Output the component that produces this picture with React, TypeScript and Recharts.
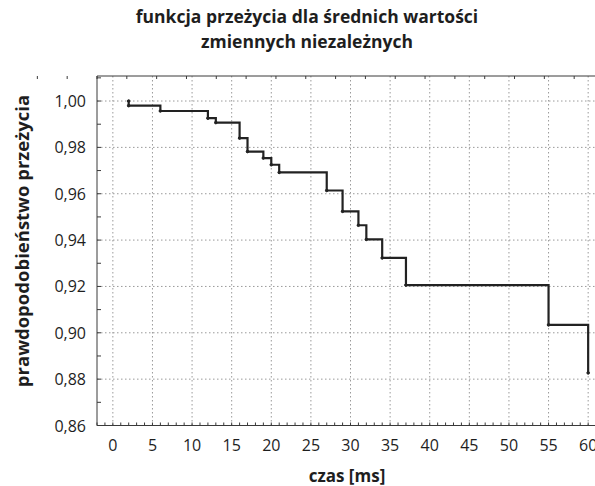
import { LineChart, Line, XAxis, YAxis, ReferenceLine } from 'recharts';

// czasy zdarzeń [ms] i prawdopodobieństwo przeżycia (krzywa schodkowa)
const czas = [2, 2, 6, 12, 13, 16, 17, 19, 20, 21, 27, 29, 31, 32, 34, 37, 55, 60];
const przezycie = [1.0, 0.998, 0.9957, 0.9926, 0.9907, 0.984, 0.9782, 0.9754, 0.9725, 0.9692, 0.9614, 0.9524, 0.9464, 0.9403, 0.9323, 0.9206, 0.9034, 0.8827];

const xLabels = [0, 5, 10, 15, 20, 25, 30, 35, 40, 45, 50, 55, 60];
const xMinor = Array.from({ length: 65 }, (_, i) => i - 2);
const yLabels = [0.86, 0.88, 0.9, 0.92, 0.94, 0.96, 0.98, 1.0];
const yMinor = [0.86, 0.87, 0.88, 0.89, 0.9, 0.91, 0.92, 0.93, 0.94, 0.95, 0.96, 0.97, 0.98, 0.99, 1.0, 1.01];

const data = czas.map((t, i) => ({ t, s: przezycie[i] }));

const FONT = '"Open Sans", sans-serif';
const AXIS = '#3a3a3a';
const TEXT = '#1e1e1e';

const isLabelX = (v: number) => xLabels.includes(v);
const isLabelY = (v: number) => yLabels.some((l) => Math.abs(l - v) < 1e-6);

const BottomTick = ({ x, y, payload }: any) => (
  <g>
    <line x1={x} x2={x} y1={y} y2={y - 3} stroke={AXIS} />
    {isLabelX(payload.value) && (
      <text x={x} y={y + 25} textAnchor="middle" fontSize={16} fontFamily={FONT} fill={TEXT}>
        {payload.value}
      </text>
    )}
  </g>
);

const TopTick = ({ x, y }: any) => <line x1={x} x2={x} y1={y} y2={y + 3} stroke={AXIS} />;

const LeftTick = ({ x, y, payload }: any) => (
  <g>
    <line x1={x} x2={x + 4} y1={y} y2={y} stroke={AXIS} />
    {isLabelY(payload.value) && (
      <text x={x - 11} y={y + 6} textAnchor="end" fontSize={16} fontFamily={FONT} fill={TEXT}>
        {payload.value.toFixed(2).replace('.', ',')}
      </text>
    )}
  </g>
);

export default function App() {
  return (
    <div
      style={{
        position: 'fixed',
        left: 0,
        top: 0,
        width: 595,
        height: 486,
        overflow: 'hidden',
        background: '#fff',
      }}
    >
      <div style={{ position: 'absolute', left: 8, top: 8 }}>
        <LineChart width={620} height={478} data={data} margin={{ top: 38, right: 24, bottom: 30.5, left: 29 }}>
          <XAxis
            dataKey="t"
            type="number"
            domain={[-2, 62]}
            allowDataOverflow
            ticks={xMinor}
            interval={0}
            height={30}
            tickSize={0}
            tickMargin={0}
            tickLine={false}
            tick={<BottomTick />}
            stroke={AXIS}
          />
          <XAxis
            xAxisId="top"
            orientation="top"
            type="number"
            domain={[-2, 62]}
            allowDataOverflow
            ticks={xMinor}
            interval={0}
            height={30}
            tickSize={0}
            tickMargin={0}
            tickLine={false}
            tick={<TopTick />}
            stroke={AXIS}
          />
          <YAxis
            type="number"
            domain={[0.86, 1.0108]}
            allowDataOverflow
            ticks={yMinor}
            interval={0}
            width={60}
            tickSize={0}
            tickMargin={0}
            tickLine={false}
            tick={<LeftTick />}
            stroke={AXIS}
          />
          {xLabels.map((v) => (
            <ReferenceLine key={`gx${v}`} x={v} stroke="#9a9a9a" strokeDasharray="1.5 2.5" />
          ))}
          {yLabels.slice(1).map((v) => (
            <ReferenceLine key={`gy${v}`} y={v} stroke="#9a9a9a" strokeDasharray="1.5 2.5" />
          ))}
          <Line
            type="stepAfter"
            dataKey="s"
            stroke="#222"
            strokeWidth={2.2}
            dot={{ r: 1.3, fill: '#222', stroke: '#222', strokeWidth: 1 }}
            isAnimationActive={false}
          />
          <text x={299} y={15} textAnchor="middle" fontSize={17.5} fontWeight="bold" fontFamily={FONT} fill={TEXT}>
            funkcja przeżycia dla średnich wartości
          </text>
          <text x={299} y={40} textAnchor="middle" fontSize={17.5} fontWeight="bold" fontFamily={FONT} fill={TEXT}>
            zmiennych niezależnych
          </text>
          <text x={339} y={474} textAnchor="middle" fontSize={17} fontWeight="bold" fontFamily={FONT} fill={TEXT}>
            czas [ms]
          </text>
          <text
            x={21}
            y={233}
            textAnchor="middle"
            fontSize={18.5}
            fontWeight="bold"
            fontFamily={FONT}
            fill={TEXT}
            transform="rotate(-90 21 233)"
          >
            prawdopodobieństwo przeżycia
          </text>
        </LineChart>
      </div>
    </div>
  );
}
